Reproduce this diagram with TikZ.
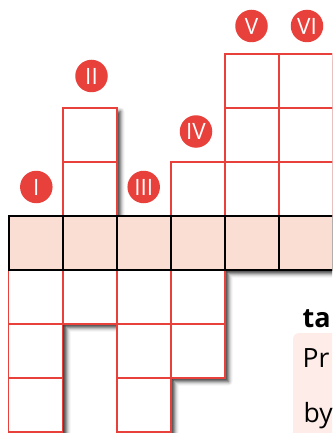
\documentclass[tikz,border=0pt]{standalone}
\usepackage{fontspec}
\setmainfont{Open Sans}
\usetikzlibrary{shadows.blur}
\definecolor{cellred}{HTML}{E8413C}
\definecolor{rowpink}{HTML}{FBDED3}
\definecolor{boxpink}{HTML}{FDECE8}
\tikzset{
  cell/.style={draw=cellred, line width=1.3pt, fill=white},
  rowcell/.style={draw=black, line width=2pt, fill=rowpink},
  badge/.style={circle, fill=cellred, minimum size=32.5pt, inner sep=0pt,
    text=white, font=\fontsize{22.5}{26}\selectfont},
  bodytext/.style={anchor=base west, inner sep=0pt, font=\fontsize{26.5}{30}\selectfont},
  myshadow/.style={blur shadow={shadow xshift=3.5pt, shadow yshift=-3.5pt,
    shadow blur radius=4pt, shadow opacity=80}}
}
\begin{document}
\begin{tikzpicture}[x=1pt,y=-1pt]
\useasboundingbox (0,0) rectangle (332,433);
\clip (0,0) rectangle (332,433);
% shadow of the whole figure
\path[myshadow] (8.5,216) -- (63,216) -- (63,108) -- (117,108) -- (117,216)
  -- (171,216) -- (171,162) -- (225,162) -- (225,54) -- (400,54) -- (400,270)
  -- (225,270) -- (225,378) -- (171,378) -- (171,432) -- (117,432) -- (117,324)
  -- (63,324) -- (63,432) -- (8.5,432) -- cycle;
% upper cells
\foreach \x/\n in {63/2, 171/1, 225/3, 279/3, 333/3}{
  \foreach \k in {1,...,\n}{
    \draw[cell] (\x,{216-54*\k}) rectangle ++(54,54);
  }
}
% lower cells
\foreach \x/\n in {8.5/3, 63/1, 117/3, 171/2}{
  \foreach \k in {1,...,\n}{
    \draw[cell] (\x,{270+54*(\k-1)}) rectangle ++(54,54);
  }
}
% the highlighted row
\foreach \x in {8.5,63,117,171,225,279,333}{
  \draw[rowcell] (\x,216) rectangle ++(54,54);
}
% badges
\node[badge] (b1) at (36.3,187) {I};
\node[badge] (b2) at (91.5,76) {II};
\node[badge] (b3) at (143.7,187) {III};
\node[badge] (b4) at (196,131.5) {IV};
\node[badge] (b5) at (251.5,26) {V};
\node[badge] (b6) at (307,26) {VI};
% text box at right
\node[bodytext, font=\fontsize{27}{30}\selectfont\bfseries] (t1) at (302.5,327) {ta};
\fill[boxpink, rounded corners=6pt] (293,333) rectangle (360,450);
\node[bodytext] (t2) at (302.5,367) {Pr};
\node[bodytext] (t3) at (303.5,422) {by};
\end{tikzpicture}
\end{document}
